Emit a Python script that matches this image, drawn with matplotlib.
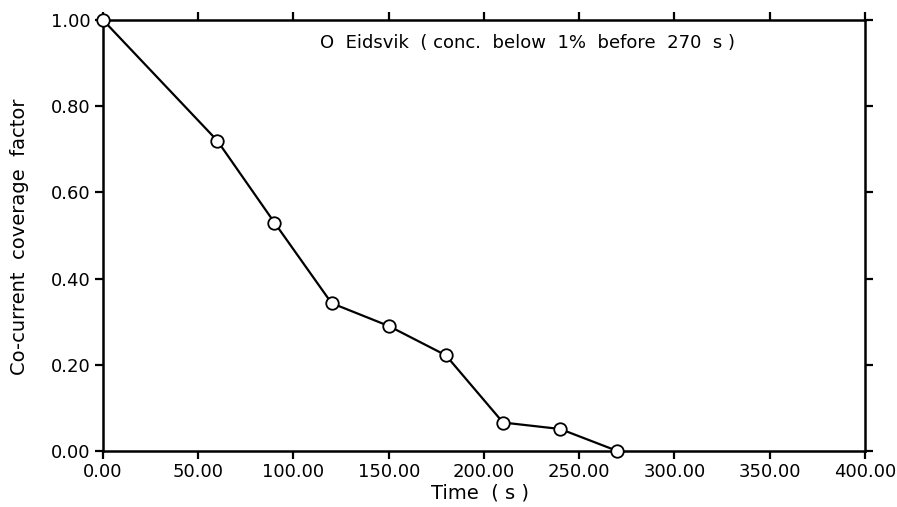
import matplotlib
matplotlib.use("Agg")
import matplotlib.pyplot as plt
from matplotlib.ticker import FormatStrFormatter

# Co-current coverage factor measured over time
time_s = [0, 60, 90, 120, 150, 180, 210, 240, 270]
coverage = [1.00, 0.72, 0.53, 0.343, 0.29, 0.222, 0.066, 0.051, 0.0]

x_ticks = [0, 50, 100, 150, 200, 250, 300, 350, 400]
y_ticks = [0.0, 0.2, 0.4, 0.6, 0.8, 1.0]

fig = plt.figure(figsize=(8.97, 5.07), dpi=100)
ax = fig.add_axes([0.1148, 0.1105, 0.8495, 0.8501])

ax.plot(time_s, coverage, color="black", lw=1.6, marker="o", ms=9,
        mfc="white", mec="black", mew=1.3, clip_on=False, zorder=5)

ax.set_xlim(0, 400)
ax.set_ylim(0, 1.0)
ax.set_xticks(x_ticks)
ax.set_yticks(y_ticks)
ax.xaxis.set_major_formatter(FormatStrFormatter("%.2f"))
ax.yaxis.set_major_formatter(FormatStrFormatter("%.2f"))

ax.tick_params(axis="both", which="major", direction="out", length=6,
               width=1.6, labelsize=13, pad=3,
               top=True, right=True, labeltop=False, labelright=False)
for sp in ax.spines.values():
    sp.set_linewidth(1.8)

ax.set_xlabel("Time  ( s )", fontsize=14, va="center")
ax.set_ylabel("Co-current  coverage  factor", fontsize=14, va="center")
ax.xaxis.set_label_coords(0.495, -0.097)
ax.yaxis.set_label_coords(-0.109, 0.497)

ax.text(0.285, 0.947, "O  Eidsvik  ( conc.  below  1%  before  270  s )",
        transform=ax.transAxes, fontsize=13, va="center", ha="left")

fig.savefig("out.png", dpi=100)
